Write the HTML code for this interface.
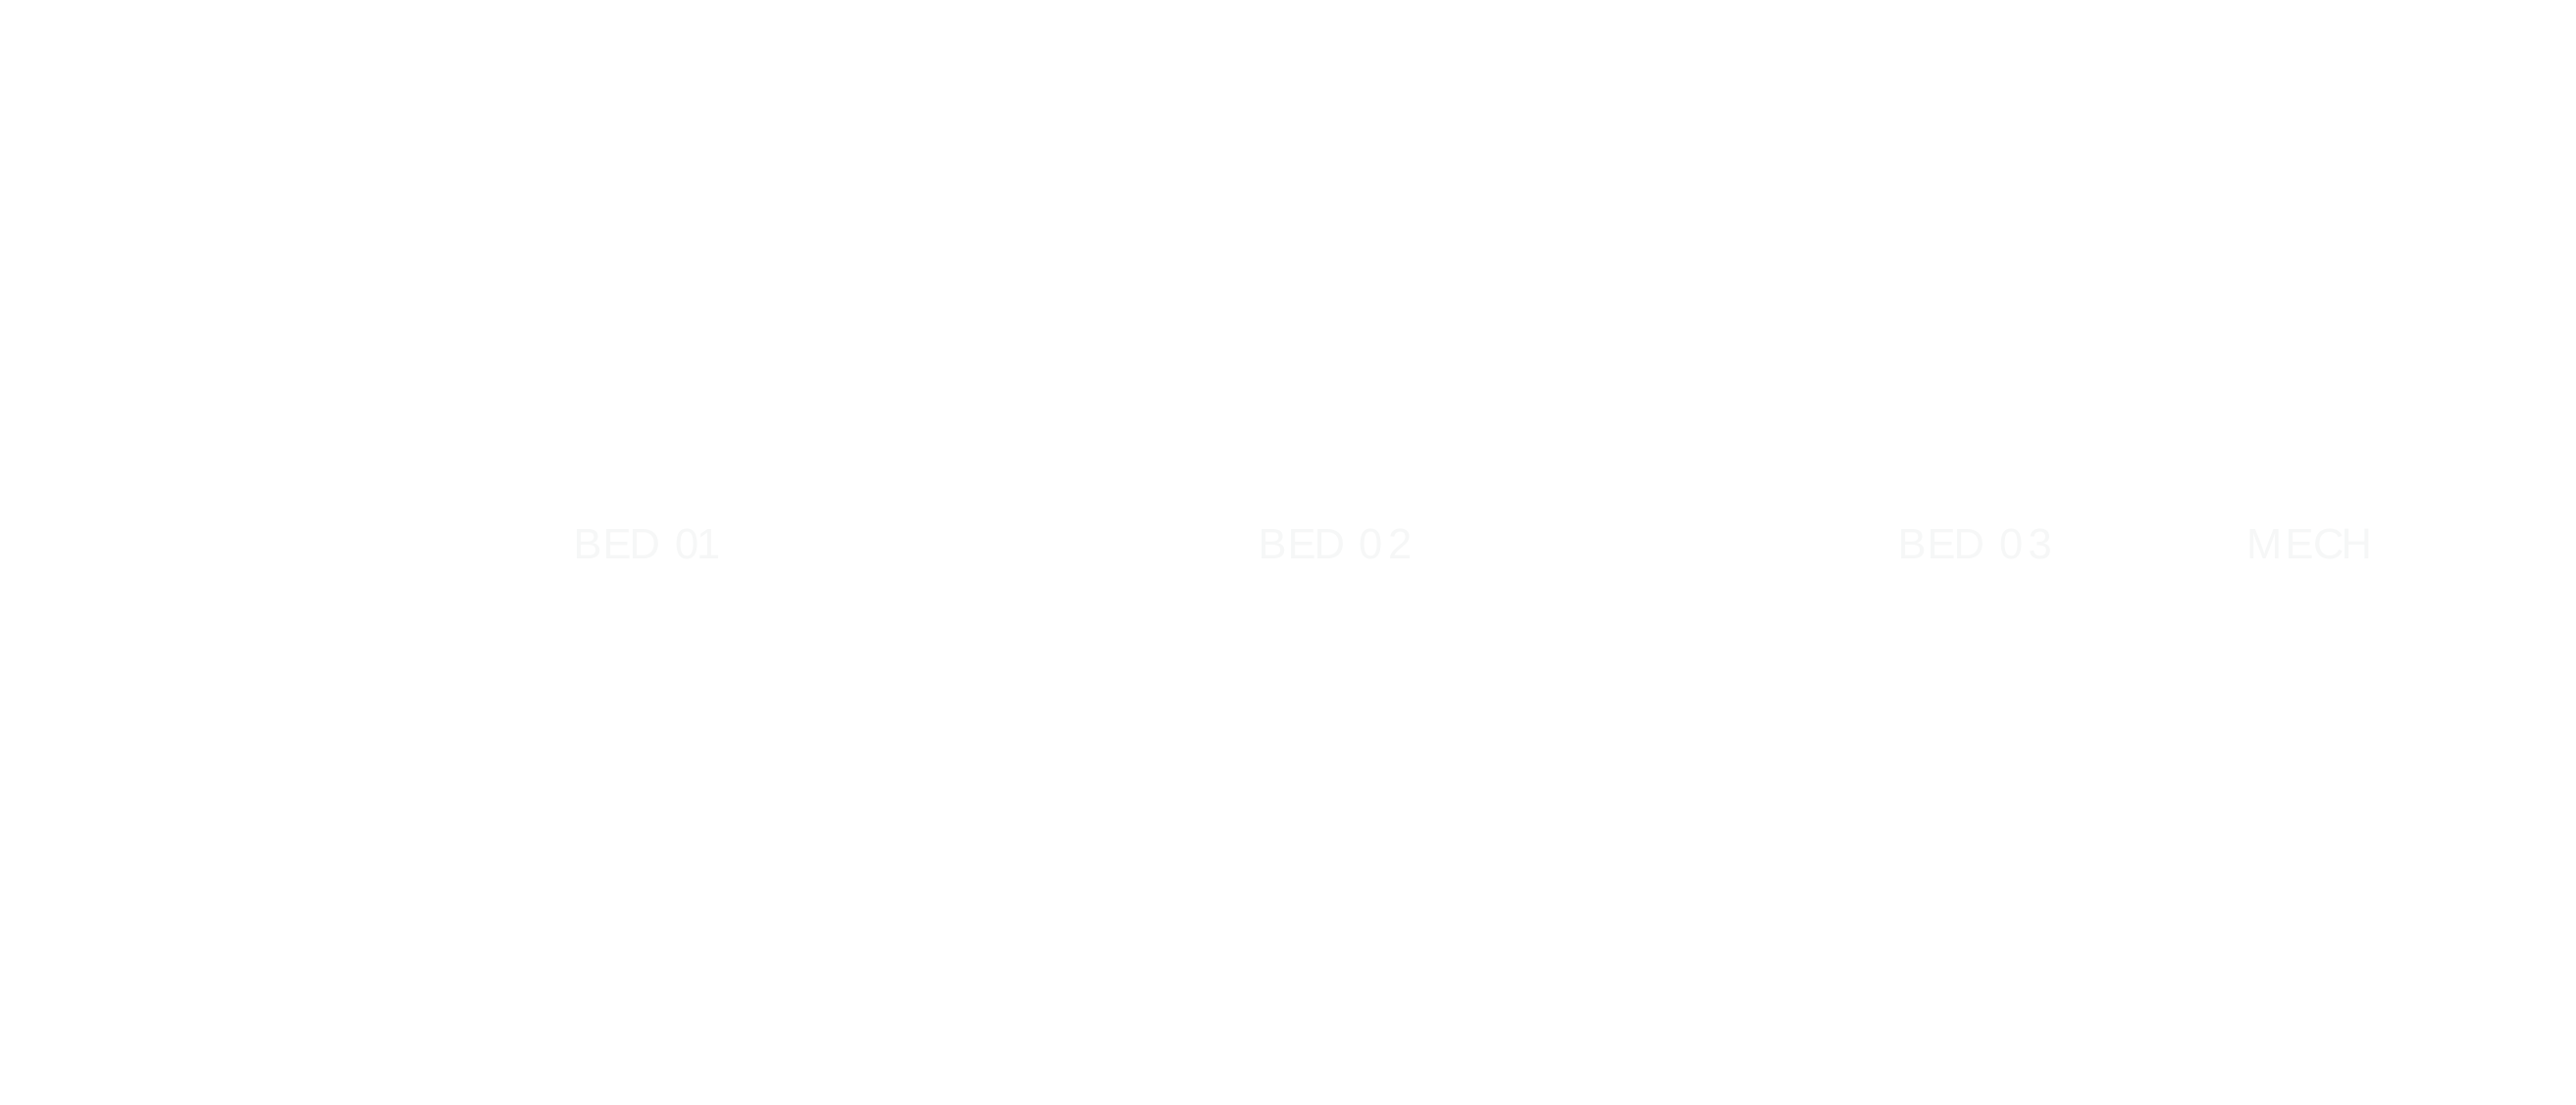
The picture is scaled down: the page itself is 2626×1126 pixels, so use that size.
<!DOCTYPE html>
<html lang="en">
<head>
<meta charset="utf-8">
<title>Floor plan labels</title>
<style>
html,body{margin:0;padding:0;background:#fff;width:2626px;height:1126px;overflow:hidden}
svg{display:block}
text{font-family:"Liberation Sans",sans-serif;font-size:43.5px;fill:#f6f7f7}
</style>
</head>
<body>
<svg xmlns="http://www.w3.org/2000/svg" width="2626" height="1126" viewBox="0 0 2626 1126">
<rect width="2626" height="1126" fill="#ffffff"/>
<text y="569" x="584.5 614.5 641.5 673 688 710">BED 01</text>
<text y="569" x="1282.5 1312.5 1339.5 1371 1385 1415">BED 02</text>
<text y="569" x="1934.5 1964.5 1991.5 2023 2038 2067.5">BED 03</text>
<text y="569" x="2290 2329.5 2358 2386.5">MECH</text>
</svg>
</body>
</html>
